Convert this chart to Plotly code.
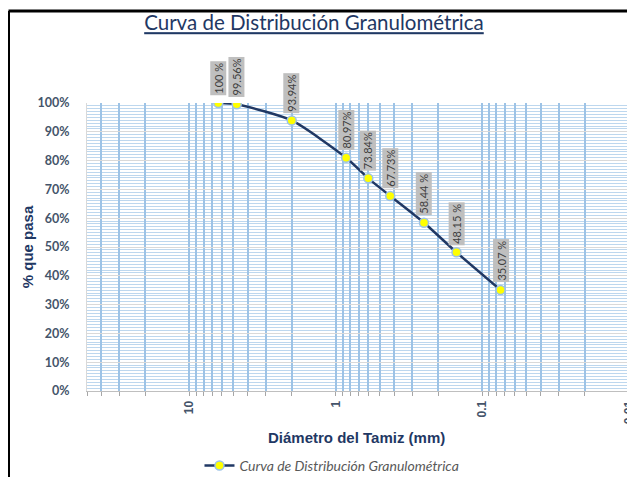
import plotly.graph_objects as go
import math

# Data
sieve_mm = [6.35, 4.75, 2.0, 0.85, 0.6, 0.425, 0.25, 0.15, 0.075]
pct_pass = [1.00, 0.9956, 0.9394, 0.8097, 0.7384, 0.6773, 0.5844, 0.4815, 0.3507]
labels = ["100 %", "99.56%", "93.94%", "80.97%", "73.84%", "67.73%", "58.44 %", "48.15 %", "35.07 %"]
series_name = "Curva de Distribución Granulométrica"
x_title = "Diámetro del Tamiz (mm)"
y_title = "% que pasa"

# log grid positions (2..9 x powers of ten) + decades
grid_vals = []
for p in [1, 0, -1, -2]:
    for m in [5, 4, 3, 2, 1] if p == 1 else [9, 8, 7, 6, 5, 4, 3, 2, 1]:
        v = m * 10 ** p
        if v <= 50 and v >= 0.01:
            grid_vals.append(v)
grid_text = [("{:g}".format(v) if abs(math.log10(v) - round(math.log10(v))) < 1e-9 else "") for v in grid_vals]

fig = go.Figure()
fig.add_trace(go.Scatter(
    x=sieve_mm, y=pct_pass, mode="lines+markers",
    name="<i>" + series_name + "</i>",
    line=dict(color="#203864", width=2.5, shape="spline", smoothing=0.6),
    marker=dict(color="#FFFF00", size=9, line=dict(color="#9DC3E6", width=1.5)),
))

for x, y, t in zip(sieve_mm, pct_pass, labels):
    fig.add_annotation(x=math.log10(x), y=y, text=t, textangle=-90, showarrow=False,
                       xanchor="center", yanchor="bottom", yshift=7,
                       font=dict(family="Lato", size=11, color="#404040"),
                       bgcolor="#BFBFBF", borderpad=1)

# x axis title as annotation (exact placement)
fig.add_annotation(xref="paper", yref="paper", x=0.498, y=-0.16, text=x_title, showarrow=False,
                   xanchor="center", yanchor="middle",
                   font=dict(family="Liberation Sans", size=15, color="#1F3864", weight="bold"))

# page body has an 8px margin: figure is offset by (8, 8)
fig.update_layout(
    width=627, height=469,
    margin=dict(l=79, r=6, t=95, b=86, autoexpand=False),
    paper_bgcolor="white", plot_bgcolor="white",
    title=dict(text="<u>Curva de Distribución Granulométrica</u>", x=0.488, xanchor="center",
               y=0.968, yanchor="middle",
               font=dict(family="Lato", size=20.5, color="#1F3864")),
    showlegend=True,
    legend=dict(orientation="h", x=0.452, xanchor="center", y=-0.26, yanchor="middle",
                font=dict(family="Lato", size=14, color="#595959"), bgcolor="rgba(0,0,0,0)"),
    xaxis=dict(type="log", range=[math.log10(50), -2.002], automargin=False,
               tickmode="array", tickvals=grid_vals, ticktext=grid_text, tickangle=-90,
               ticklabeloverflow="allow",
               tickfont=dict(family="Liberation Sans", size=12, color="#44546A", weight="bold"),
               showgrid=True, gridcolor="#9DC3E6", gridwidth=1.5,
               ticks="outside", ticklen=4, tickcolor="#A6A6A6",
               showline=True, linecolor="#BFBFBF", linewidth=1, zeroline=False),
    yaxis=dict(range=[0, 1], dtick=0.1, tickformat=".0%", automargin=False,
               tickfont=dict(family="Lato", size=12.5, color="#44546A", weight="bold"),
               showgrid=True, gridcolor="#D9D9D9", gridwidth=1,
               minor=dict(dtick=0.01, showgrid=True, gridcolor="#BDD7EE", gridwidth=1),
               showline=True, linecolor="#D9D9D9", zeroline=False, ticks="", ticklabelstandoff=14,
               title=dict(text=y_title, standoff=0,
                          font=dict(family="Liberation Sans", size=15, color="#1F3864", weight="bold"))),
)

# outer chart frame (top and left edges visible)
fig.add_shape(type="line", xref="paper", yref="paper", x0=(8.5 - 87) / 542, x1=1.1,
              y0=(391 - 11) / 288, y1=(391 - 11) / 288, line=dict(color="black", width=3))
fig.add_shape(type="line", xref="paper", yref="paper", x0=(8.5 - 87) / 542, x1=(8.5 - 87) / 542,
              y0=(391 - 11) / 288, y1=-0.4, line=dict(color="black", width=3))

fig.write_html("out.html")
